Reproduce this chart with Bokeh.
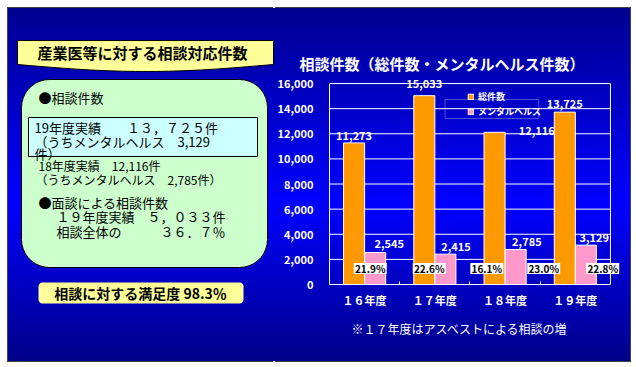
import numpy as np
from bokeh.plotting import figure
from bokeh.models import Range1d, FixedTicker, NumeralTickFormatter, Title, BoxAnnotation
from bokeh.core.properties import value
from bokeh.embed import file_html
from bokeh.resources import INLINE

JP = value("Noto Sans CJK JP")
JPN = "Noto Sans CJK JP"

# ---------------- data ----------------
categories = ["１６年度", "１７年度", "１８年度", "１９年度"]
total_counts = [11273, 15033, 12116, 13725]
mental_counts = [2545, 2415, 2785, 3129]
ratio_labels = ["21.9%", "22.6%", "16.1%", "23.0%", "22.8%"]
y_ticks = [0, 2000, 4000, 6000, 8000, 10000, 12000, 14000, 16000]
series_names = ["総件数", "メンタルヘルス"]
chart_title = "相談件数（総件数・メンタルヘルス件数）"
footnote = "※１７年度はアスベストによる相談の増"

panel_title = "産業医等に対する相談対応件数"
panel_lines_big = ["●相談件数",
                   "19年度実績　　１３，７２５件",
                   "（うちメンタルヘルス　3,129",
                   "件）",
                   "●面談による相談件数",
                   "１９年度実績　５，０３３件",
                   "相談全体の　　　３６．７％"]
panel_lines_small = ["18年度実績　12,116件",
                     "（うちメンタルヘルス　2,785件）"]
satisfaction = "相談に対する満足度 98.3％"

# ---------------- styles / positions ----------------
ORANGE = "#FF9900"
PINK = "#FF99CC"
BAR_W = 0.3
GRADIENT = "linear-gradient(to bottom, #000090 0%, #0000ff 55%, #000088 100%)"
big_x = [38, 34, 34, 34, 38, 56, 56]
big_y = [97, 127, 141, 153, 202, 216, 231]
small_x = [38, 35]
small_y = [165, 179]
total_dx = [0.0, 0.0, 0.6, 0.0]
total_dy = [7, 12, 2, 8.6]
mental_dx = [0.2, 0.15, 0.16, 0.12]
mental_dy = [9, 8, 8, 8]
ratio_x = [0.58, 1.42, 2.24, 3.05, 3.89]
RATIO_Y = 1275
Y_MAX = y_ticks[-1]
N_CAT = len(categories)
PX = Y_MAX / 201.0  # data units per pixel on y


def rounded_box(x0, y0, x1, y1, r, n=10):
    xs, ys = [], []
    corners = [(x1 - r, y0 + r, -90, 0), (x1 - r, y1 - r, 0, 90),
               (x0 + r, y1 - r, 90, 180), (x0 + r, y0 + r, 180, 270)]
    for cx, cy, a0, a1 in corners:
        a = np.radians(np.linspace(a0, a1, n))
        xs += list(cx + r * np.cos(a))
        ys += list(cy + r * np.sin(a))
    return xs, ys


# ---------------- left panel ----------------
left = figure(width=266, height=353, x_range=Range1d(8, 274), y_range=Range1d(361, 8),
              output_backend="svg", toolbar_location=None, min_border=0,
              x_axis_location=None, y_axis_location=None,
              border_fill_color=None, background_fill_color=None, outline_line_color=None,
              styles={"position": "absolute", "left": "8px", "top": "8px",
                      "background": GRADIENT,
                      "box-shadow": "-1px -1px 0 #404040, -1px 1px 0 #404040"})
left.grid.visible = False

# banner with wavy bottom
t = np.linspace(0, 1, 40)
bx = [17, 273] + list(273 - 256 * t) + [17]
by = [40, 40] + list(64 + 7 * np.sin(np.pi * t)) + [40]
left.patch(bx, by, fill_color="#FFFF99", line_color="black", line_width=1)
left.text(x=[142], y=[52], text=[panel_title], text_font=JP, text_font_style="bold",
          text_font_size="15px", text_color="black", text_align="center", text_baseline="middle")

gx, gy = rounded_box(21, 79, 267, 267, 28)
left.patch(gx, gy, fill_color="#CCFFCC", line_color="black", line_width=1)
left.quad(left=[28], right=[257], top=[117], bottom=[156], fill_color="#CCFFFF",
          line_color="black", line_width=1)
left.text(x=big_x, y=big_y, text=panel_lines_big, text_font=JP, text_font_size="13px",
          text_color="black", text_align="left", text_baseline="middle")
left.text(x=small_x, y=small_y, text=panel_lines_small, text_font=JP, text_font_size="12px",
          text_color="black", text_align="left", text_baseline="middle")

yx, yy = rounded_box(38, 282, 243, 303, 4)
left.patch(yx, yy, fill_color="#FFFF99", line_color=None)
left.text(x=[140], y=[292.5], text=[satisfaction], text_font=JP, text_font_style="bold",
          text_font_size="14px", text_color="black", text_align="center", text_baseline="middle")

# ---------------- right chart ----------------
# frame extends a little beyond the chart box so that labels are not clipped
p = figure(width=356, height=353, x_range=Range1d(0, 4.2), y_range=Range1d(0, 16640),
           output_backend="svg", toolbar_location=None,
           min_border_left=54, min_border_right=6, min_border_top=67, min_border_bottom=77,
           border_fill_color=None, background_fill_color=None, outline_line_color=None,
           styles={"position": "absolute", "left": "274px", "top": "8px",
                   "background": GRADIENT,
                   "box-shadow": "1px -1px 0 #404040, 1px 1px 0 #404040"})

# grid lines and right border of the chart box
p.segment(x0=[0] * len(y_ticks), x1=[N_CAT] * len(y_ticks), y0=y_ticks, y1=y_ticks,
          line_color="white", line_width=1)
p.segment(x0=[N_CAT], x1=[N_CAT], y0=[0], y1=[Y_MAX], line_color="white", line_width=1)

centers = np.arange(N_CAT) + 0.5
p.vbar(x=centers - BAR_W / 2, top=total_counts, width=BAR_W, fill_color=ORANGE,
       line_color="white", line_width=1, legend_label=series_names[0])
p.vbar(x=centers + BAR_W / 2, top=mental_counts, width=BAR_W, fill_color=PINK,
       line_color="white", line_width=1, legend_label=series_names[1])

num_style = dict(text_font=JP, text_font_style="bold", text_font_size="11px",
                 text_color="white", text_align="center", text_baseline="middle")
p.text(x=centers - BAR_W / 2 + np.array(total_dx),
       y=np.array(total_counts) + np.array(total_dy) * PX,
       text=[f"{v:,}" for v in total_counts], **num_style)
p.text(x=centers + BAR_W / 2 + np.array(mental_dx),
       y=np.array(mental_counts) + np.array(mental_dy) * PX,
       text=[f"{v:,}" for v in mental_counts], **num_style)

p.rect(x=ratio_x, y=[RATIO_Y] * len(ratio_x), width=33, height=11,
       width_units="screen", height_units="screen", fill_color="white", line_color=None)
p.text(x=ratio_x, y=[RATIO_Y] * len(ratio_x), text=ratio_labels, text_font=JP,
       text_font_style="bold", text_font_size="10px", text_color="black",
       text_align="center", text_baseline="middle")

# axes
p.yaxis.ticker = FixedTicker(ticks=y_ticks)
p.yaxis.formatter = NumeralTickFormatter(format="0,0")
p.yaxis.bounds = (0, Y_MAX)
p.xaxis.ticker = FixedTicker(ticks=list(centers), minor_ticks=[1, 2, 3])
p.xaxis.major_label_overrides = {float(c): lab for c, lab in zip(centers, categories)}
p.xaxis.bounds = (0, N_CAT)
for ax in (p.xaxis, p.yaxis):
    ax.major_label_text_color = "white"
    ax.major_label_text_font = JPN
    ax.major_label_text_font_style = "bold"
    ax.major_label_text_font_size = "11px"
    ax.major_tick_in = 0
    ax.major_tick_out = 0
    ax.axis_line_color = "white"
p.yaxis.minor_tick_line_color = None
p.yaxis.major_label_standoff = 16
p.xaxis.major_label_standoff = 7
p.xaxis.minor_tick_in = 3
p.xaxis.minor_tick_out = 0
p.xaxis.minor_tick_line_color = "white"
p.grid.visible = False

# legend
lg = p.legend[0]
lg.location = (138, 166)
lg.margin = 0
lg.padding = 1
lg.spacing = 2
lg.label_height = 8
lg.glyph_height = 7
lg.glyph_width = 7
lg.label_standoff = 4
lg.label_text_font = JPN
lg.label_text_font_style = "bold"
lg.label_text_font_size = "9px"
lg.label_text_color = "white"
lg.label_text_baseline = "middle"
lg.background_fill_alpha = 0
lg.border_line_color = None
p.add_layout(BoxAnnotation(left=1.645, right=2.979, bottom=13214, top=14726,
                           fill_alpha=0, line_color="white", line_width=1))

# chart title and footnote
p.add_layout(Title(text=chart_title, align="left", offset=-30, standoff=4,
                   text_font=JPN, text_font_style="bold", text_font_size="15px",
                   text_color="white"), "above")
p.add_layout(Title(text=footnote, align="left", offset=22, standoff=14,
                   text_font=JPN, text_font_style="normal", text_font_size="12px",
                   text_color="white"), "below")

open("out.html", "w").write(file_html([left, p], INLINE))
